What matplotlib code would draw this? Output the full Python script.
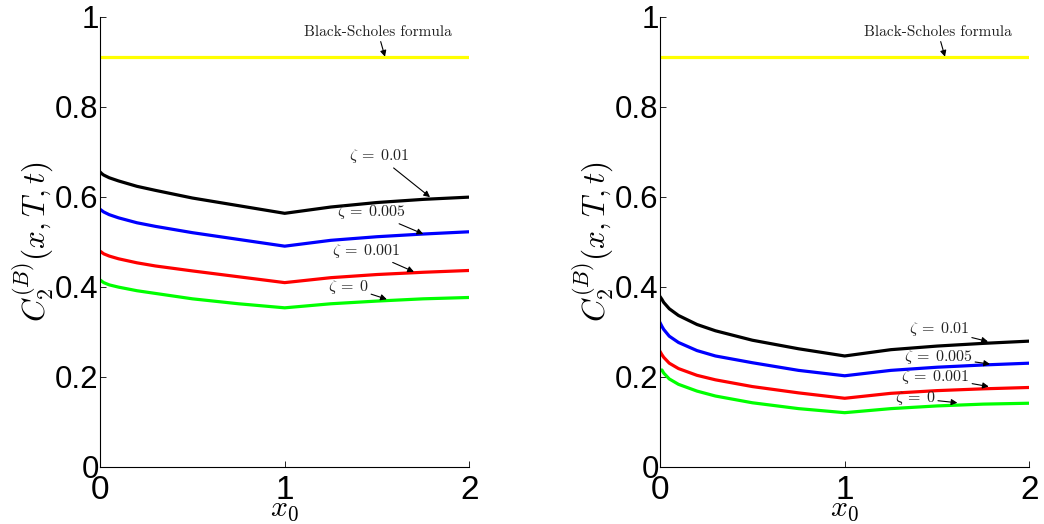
import matplotlib
matplotlib.use("Agg")
import matplotlib.pyplot as plt

plt.rcParams['mathtext.fontset'] = 'cm'
plt.rcParams['font.family'] = ['Liberation Sans', 'DejaVu Sans']

x0 = [0, 0.01, 0.02, 0.05, 0.1, 0.2, 0.3, 0.5, 0.75, 1.0, 1.25, 1.5, 1.75, 2.0]

# Left panel
left_z001 = [0.655, 0.651, 0.648, 0.642, 0.635, 0.623, 0.614, 0.597, 0.580, 0.563, 0.577, 0.587, 0.594, 0.599]
left_z0005 = [0.572, 0.569, 0.566, 0.560, 0.553, 0.542, 0.534, 0.520, 0.505, 0.490, 0.503, 0.511, 0.517, 0.522]
left_z0001 = [0.479, 0.476, 0.473, 0.468, 0.462, 0.453, 0.446, 0.435, 0.422, 0.409, 0.420, 0.427, 0.432, 0.436]
left_z0 = [0.415, 0.412, 0.409, 0.404, 0.399, 0.391, 0.385, 0.373, 0.362, 0.353, 0.362, 0.368, 0.373, 0.376]

# Right panel
right_z001 = [0.378, 0.372, 0.365, 0.351, 0.336, 0.316, 0.302, 0.281, 0.262, 0.246, 0.260, 0.268, 0.274, 0.279]
right_z0005 = [0.320, 0.312, 0.305, 0.290, 0.276, 0.258, 0.246, 0.231, 0.214, 0.202, 0.214, 0.221, 0.226, 0.230]
right_z0001 = [0.256, 0.249, 0.243, 0.230, 0.218, 0.203, 0.193, 0.178, 0.164, 0.152, 0.163, 0.169, 0.173, 0.176]
right_z0 = [0.213, 0.215, 0.208, 0.195, 0.183, 0.168, 0.157, 0.142, 0.129, 0.120, 0.129, 0.135, 0.139, 0.141]

black_scholes = 0.911

series_labels = [r"$\zeta\:=\:0.01$", r"$\zeta\:=\:0.005$", r"$\zeta\:=\:0.001$", r"$\zeta\:=\:0$"]
colors = ['black', (0, 0, 1), (1, 0, 0), (0, 1, 0)]

# annotation (text position, arrow target) per panel
left_ann = [((1.51, 0.690), (1.787, 0.599)),
            ((1.47, 0.566), (1.75, 0.517)),
            ((1.44, 0.480), (1.70, 0.433)),
            ((1.343, 0.400), (1.553, 0.372))]
right_ann = [((1.51, 0.305), (1.776, 0.278)),
             ((1.505, 0.244), (1.787, 0.228)),
             ((1.49, 0.199), (1.78, 0.178)),
             ((1.38, 0.152), (1.61, 0.142))]

fig = plt.figure(figsize=(10.44, 5.24), dpi=100)
ax1 = fig.add_axes([0.0958, 0.1094, 0.3538, 0.8588])
ax2 = fig.add_axes([0.6322, 0.1094, 0.3538, 0.8588])

panels = [(ax1, [left_z001, left_z0005, left_z0001, left_z0], left_ann),
          (ax2, [right_z001, right_z0005, right_z0001, right_z0], right_ann)]

for ax, ys, anns in panels:
    ax.plot([0, 2], [black_scholes, black_scholes], color=(1, 1, 0), lw=2.3)
    for y, c in zip(ys, colors):
        ax.plot(x0, y, color=c, lw=2.3)
    ax.annotate("Black-Scholes formula", xy=(1.543, black_scholes), xytext=(1.505, 0.966),
                ha='center', va='center', fontsize=11, family='cmr10', color='#222222',
                arrowprops=dict(arrowstyle='-|>', color='black', lw=0.8, shrinkA=0, shrinkB=0,
                                mutation_scale=9))
    for lab, (tp, ap) in zip(series_labels, anns):
        ax.annotate(lab, xy=ap, xytext=tp, ha='center', va='center', fontsize=11.5,
                    color='#222222',
                    arrowprops=dict(arrowstyle='-|>', color='black', lw=0.8, shrinkA=0, shrinkB=0,
                                    mutation_scale=9))
    ax.set_xlim(0, 2)
    ax.set_ylim(0, 1)
    ax.set_xticks([0, 1, 2])
    ax.set_xticklabels(['0', '1', '2'])
    ax.set_yticks([0, 0.2, 0.4, 0.6, 0.8, 1])
    ax.set_yticklabels(['0', '0.2', '0.4', '0.6', '0.8', '1'])
    ax.spines['top'].set_visible(False)
    ax.spines['right'].set_visible(False)
    ax.spines['left'].set_linewidth(0.8)
    ax.spines['bottom'].set_linewidth(0.8)
    ax.tick_params(direction='in', length=4, width=0.6)
    ax.tick_params(axis='y', pad=1, labelsize=22.5)
    ax.tick_params(axis='x', pad=6, labelsize=24)
    ax.set_xlabel(r"$x_0$", fontsize=21.5, va='bottom')
    ax.xaxis.set_label_coords(0.5, -0.1255)
    ax.set_ylabel(r"$C_2^{(B)}(x,T,t)$", fontsize=22.5, labelpad=-1)

fig.savefig("out.png", dpi=100)
